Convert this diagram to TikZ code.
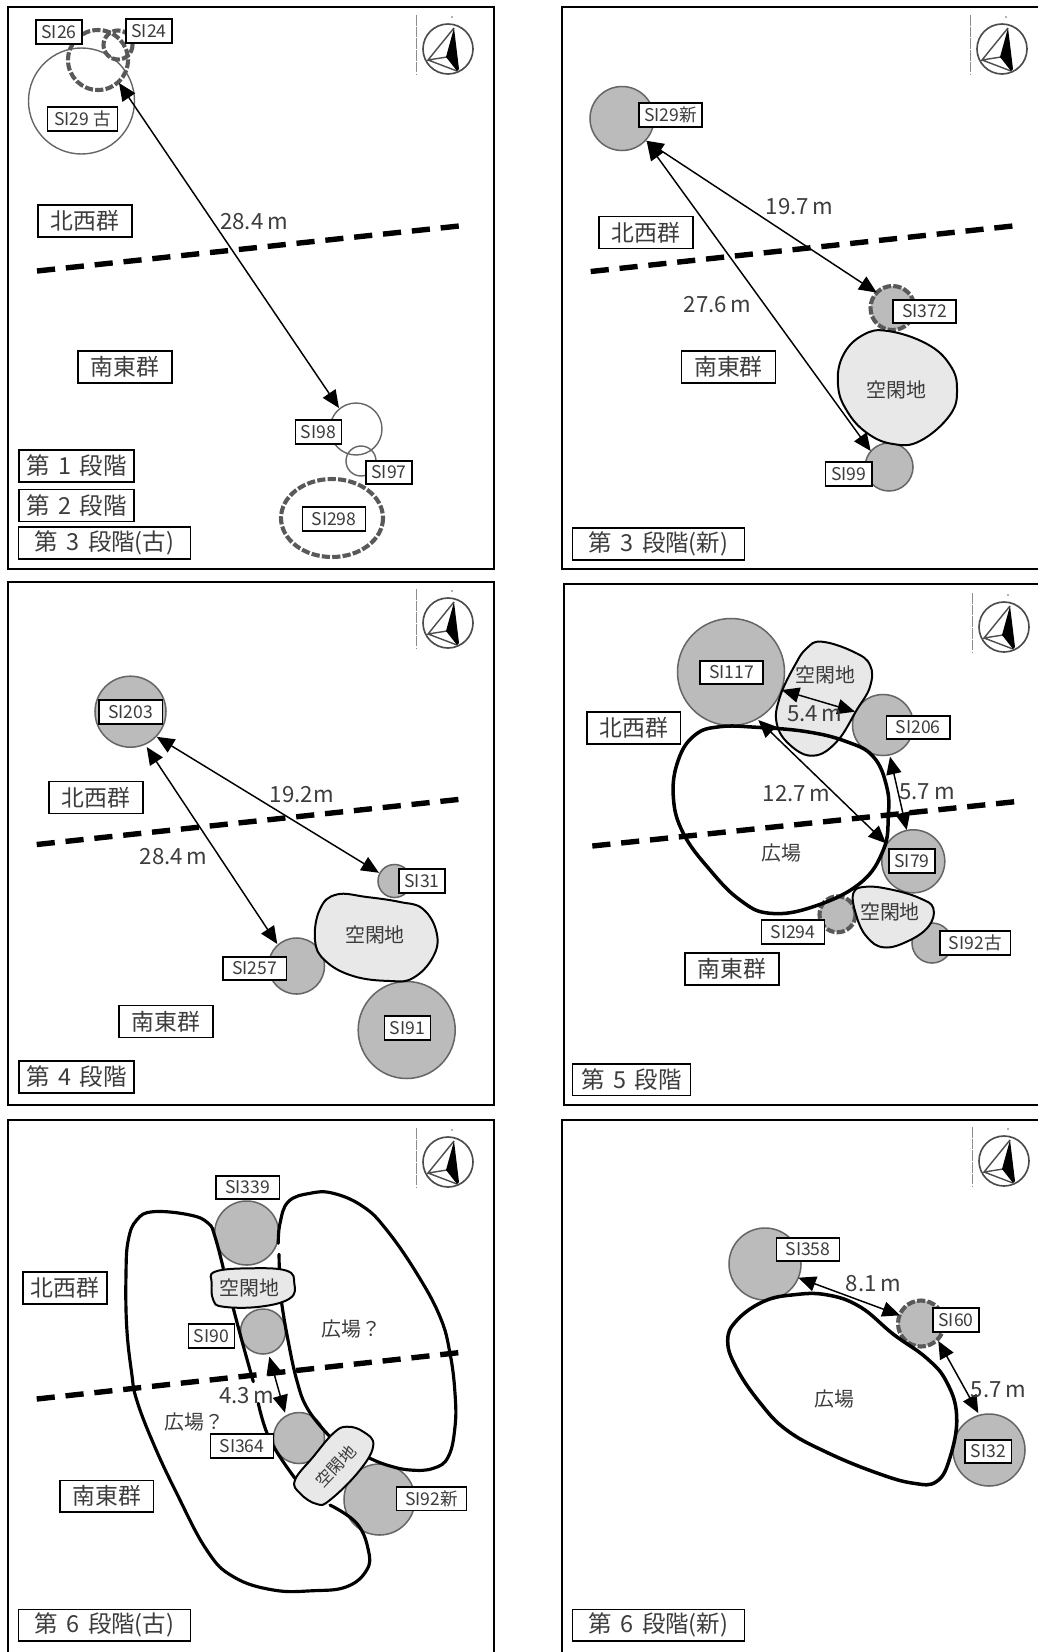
\documentclass[tikz,border=0pt]{standalone}
\usepackage{fontspec}
\setmainfont{Noto Sans CJK JP}
\usetikzlibrary{arrows.meta}
\definecolor{pitgray}{HTML}{BBBBBB}
\definecolor{pitline}{HTML}{666666}
\definecolor{voidgray}{HTML}{E8E8E8}
\definecolor{inkgray}{HTML}{3C3C3C}
\newcommand{\stagetext}[2]{第\hspace{.36em}#1\hspace{.36em}段階#2}
\tikzset{
	pit/.style={draw=pitline,fill=pitgray,line width=1.3pt},
	openpit/.style={draw=pitline,line width=1.2pt},
	lostpit/.style={draw=black!65,line width=3.5pt,dash pattern=on 7pt off 1.9pt},
	voidblob/.style={draw=black,fill=voidgray,line width=1.7pt},
	plaza/.style={draw=black,line width=3pt,line cap=round},
	divide/.style={draw=black,line width=4.6pt,dash pattern=on 15.5pt off 9.25pt},
	dist/.style={{Triangle[length=15pt,width=13pt]}-{Triangle[length=15pt,width=13pt]},line width=1.25pt},
	silabel/.style={draw=black,fill=white,line width=1.4pt,text=inkgray,font=\fontsize{15}{15}\selectfont,minimum width=39.5pt,minimum height=20pt,inner sep=0pt},
	silabelwide/.style={silabel,minimum width=54pt},
	silabellong/.style={silabel,minimum width=60pt},
	grouplabel/.style={draw=black,fill=white,line width=1.2pt,text=inkgray,font=\fontsize{19.5}{19.5}\selectfont,minimum width=80pt,minimum height=27pt,inner sep=0pt},
	stagelabel/.style={draw=black,fill=white,line width=1.2pt,text=inkgray,font=\fontsize{20}{20}\selectfont,minimum width=98.5pt,minimum height=27pt,inner sep=0pt},
	stagelabellong/.style={stagelabel,minimum width=147pt},
	distlabel/.style={text=inkgray,font=\fontsize{19}{19}\selectfont,inner sep=0pt},
	placelabel/.style={text=inkgray,font=\fontsize{17}{17}\selectfont,inner sep=0pt},
	compass/.pic={
		\draw[black!45,line width=.5pt,dash pattern=on 9pt off 1pt] (-31.5,-34)--(-31.5,26);
		\fill[black!60] (4,-32) circle [radius=.8];
		\draw[black!70,line width=1.4pt] (0,0) circle [radius=25];
		\draw[black!70,line width=1.2pt] (6,-21)--(-20,11)--(-1,8) (-20,11)--(9,22);
		\fill[black] (6,-21)--(-2,8)--(9,22)--(11,20)--cycle;
	}
}
\begin{document}
\begin{tikzpicture}[x=.03cm,y=-.03cm]
	\useasboundingbox (0,0) rectangle (1038,1652);
	\draw[line width=1.4pt] (8,7) rectangle (494,569);
	\draw[line width=1.4pt] (1039,7)--(562,7)--(562,569)--(1039,569);
	\draw[line width=1.4pt] (8,582) rectangle (494,1105);
	\draw[line width=1.4pt] (1039,584)--(564,584)--(564,1105)--(1039,1105);
	\draw[line width=1.4pt] (8,1653)--(8,1120)--(494,1120)--(494,1653);
	\draw[line width=1.4pt] (562,1653)--(562,1120)--(1039,1120);
	\pic at (448,49) {compass};
	\pic at (1002,49) {compass};
	\pic at (448,623) {compass};
	\pic at (1004,627) {compass};
	\pic at (448,1162) {compass};
	\pic at (1004,1161) {compass};

	\draw[openpit] (81.5,101) circle [radius=53];
	\draw[lostpit] (98,60) circle [radius=30];
	\draw[lostpit] (118,45) circle [radius=14.5];
	\draw[openpit] (356,429) circle [radius=26];
	\draw[openpit] (361,461) circle [radius=15];
	\draw[lostpit] (332,518) ellipse [x radius=51,y radius=39];
	\draw[divide] (37,271)--(459,226);
	\coordinate (p29old) at (119,83);
	\coordinate (p98) at (339,408);
	\draw[dist] (p29old)--(p98);
	\node[silabel] (si26) at (59,32) {SI26};
	\node[silabel] (si24) at (149,31) {SI24};
	\node[silabellong] (si29old) at (82.5,119) {SI29 古};
	\node[silabel] (si98) at (318.5,432) {SI98};
	\node[silabel] (si97) at (389,472.5) {SI97};
	\node[silabelwide] (si298) at (334,519) {SI298};
	\node[distlabel] (d284a) at (254,222) {28.4\,m};
	\node[grouplabel] (nwa) at (85,221) {北西群};
	\node[grouplabel] (sea) at (125,367) {南東群};
	\node[stagelabel] (stage1) at (76.5,466) {\stagetext{1}{}};
	\node[stagelabel] (stage2) at (76.5,505.5) {\stagetext{2}{}};
	\node[stagelabellong] (stage3old) at (104.5,543) {\stagetext{3}{(古)}};

	\draw[pit] (622,118.5) circle [radius=32];
	\draw[pit,lostpit] (892.5,308) circle [radius=22];
	\draw[pit] (889,467) circle [radius=24];
	\draw[voidblob] plot[smooth cycle,tension=.7] coordinates {(888,331)(927,344)(950,365)(957,389)(950,415)(920,441)(893,444)(867,433)(847,411)(838,385)(843,355.5)(863,335)};
	\draw[divide] (590.7,271.5)--(1012.7,226);
	\coordinate (p29newa) at (646,140.7);
	\coordinate (p29newb) at (647,142.6);
	\coordinate (p372) at (876.7,292.6);
	\coordinate (p99) at (870.7,451);
	\draw[dist] (p29newa)--(p372);
	\draw[dist] (p29newb)--(p99);
	\node[silabelwide] (si29new) at (670.5,115) {SI29新};
	\node[silabelwide] (si372) at (924.5,311.5) {SI372};
	\node[silabel] (si99) at (848.7,474) {SI99};
	\node[distlabel] (d197) at (799.7,206.7) {19.7\,m};
	\node[distlabel] (d276) at (717.7,304.4) {27.6\,m};
	\node[placelabel] (voida) at (896.7,389.6) {空閑地};
	\node[grouplabel] (nwb) at (646,232.5) {北西群};
	\node[grouplabel] (seb) at (728.5,367) {南東群};
	\node[stagelabellong] (stage3new) at (658.5,544) {\stagetext{3}{(新)}};

	\draw[pit] (130.5,711.7) circle [radius=35.5];
	\draw[pit] (394.5,881) circle [radius=16.5];
	\draw[pit] (296.5,966) circle [radius=28];
	\draw[pit] (406.7,1030) circle [radius=48.5];
	\draw[voidblob] plot[smooth cycle,tension=.7] coordinates {(336.7,894.5)(366.7,897)(400,902)(423,909)(436.7,933)(433,957)(413,978)(390,981)(353,976)(325,960.5)(315,940)(320,909)};
	\draw[divide] (36.7,844.5)--(459,799.4);
	\coordinate (p203a) at (156.7,736.8);
	\coordinate (p203b) at (146.7,747);
	\coordinate (p31) at (379,872.8);
	\coordinate (p257) at (277.3,944);
	\draw[dist] (p203a)--(p31);
	\draw[dist] (p203b)--(p257);
	\node[silabelwide] (si203) at (130.7,712) {SI203};
	\node[silabel] (si31) at (422,881) {SI31};
	\node[silabelwide] (si257) at (254.7,968.5) {SI257};
	\node[silabel] (si91) at (407.5,1028) {SI91};
	\node[distlabel] (d192) at (301.7,794.6) {19.2m};
	\node[distlabel] (d284b) at (173.7,857) {28.4\,m};
	\node[placelabel] (voidb) at (375,934.7) {空閑地};
	\node[grouplabel] (nwc) at (96,797.5) {北西群};
	\node[grouplabel] (sec) at (166,1021.5) {南東群};
	\node[stagelabel] (stage4) at (76.5,1077) {\stagetext{4}{}};

	\draw[pit] (731,672) circle [radius=53.5];
	\draw[pit] (883,725) circle [radius=30.5];
	\draw[pit] (913.3,861.3) circle [radius=31.5];
	\draw[pit] (932,943) circle [radius=20];
	\draw[pit,lostpit] (837.5,914.3) circle [radius=18];
	\draw[voidblob] plot[smooth cycle,tension=.7] coordinates {(821.7,641.7)(853.3,651.7)(870,665)(870,686.7)(856.7,710)(836.7,741.7)(813.3,755.7)(790,745)(776.7,723.3)(780,696.7)(795,665)(806.7,648.3)};
	\draw[voidblob] plot[smooth cycle,tension=.7] coordinates {(853.3,893.3)(866.7,886.7)(893.3,890)(920,898.3)(933.3,908.3)(928.3,926.7)(906.7,941.7)(883.3,947.3)(866.7,936.7)(856.7,916.7)};
	\draw[plaza] plot[smooth cycle,tension=.7] coordinates {(720,726.7)(756.7,727.3)(806.7,731.7)(846.7,741.7)(873.3,756.7)(886.7,786.7)(888.3,816.7)(883.3,850)(860,883.3)(813.3,906.7)(770,913.3)(740,900)(710,870)(683.3,833.3)(673.3,796.7)(678.3,760)(695,735)};
	\draw[divide] (592.3,846)--(1015,801.7);
	\coordinate (p117a) at (781.7,690);
	\coordinate (p117b) at (758.3,720);
	\coordinate (p206a) at (855,711.7);
	\coordinate (p206b) at (890,756.7);
	\coordinate (p79a) at (886,843.3);
	\coordinate (p79b) at (906.7,830);
	\draw[dist] (p117a)--(p206a);
	\draw[dist] (p117b)--(p79a);
	\draw[dist] (p206b)--(p79b);
	\node[silabelwide] (si117) at (731.5,672.5) {SI117};
	\node[silabelwide] (si206) at (918.3,727.5) {SI206};
	\node[silabel] (si79) at (912,861) {SI79};
	\node[silabelwide] (si294) at (793,932) {SI294};
	\node[silabellong] (si92old) at (975.3,943) {SI92古};
	\node[distlabel] (d54) at (815,714) {5.4\,m};
	\node[distlabel] (d127) at (796.7,794) {12.7\,m};
	\node[distlabel] (d57a) at (927.3,791.7) {5.7 m};
	\node[placelabel] (voidc) at (825.7,675) {空閑地};
	\node[placelabel] (voidd) at (890,911.7) {空閑地};
	\node[placelabel] (plazaa) at (781.7,853.3) {広場};
	\node[grouplabel] (nwd) at (633.7,728) {北西群};
	\node[grouplabel] (sed) at (732,969) {南東群};
	\node[stagelabel,minimum width=101pt] (stage5) at (631.5,1079.6) {\stagetext{5}{}};

	\draw[pit] (246.7,1233) circle [radius=32];
	\draw[pit] (263,1331.5) circle [radius=22.5];
	\draw[pit] (299,1438) circle [radius=25.5];
	\draw[pit] (379.5,1499.5) circle [radius=35.5];
	\begin{scope}[plaza/.append style={line width=2.7pt}]
		\draw[plaza] plot[smooth,tension=.7] coordinates {(223.3,1268.3)(215,1236.7)(208.3,1223.3)(190,1215)(153.3,1211.7)(136.7,1220)(128.3,1240)(126,1273.3)(126.7,1326.7)(131.7,1373.3)(136.7,1400)(153.3,1443.3)(176.7,1493.3)(206.7,1550)(233.3,1576.7)(273.3,1590)(313.3,1590.7)(346.7,1586.7)(366.7,1570)(368.3,1550)(356.7,1523.3)(330,1505)};
		\draw[plaza] plot[smooth,tension=.7] coordinates {(233.3,1308.3)(241.7,1340)(253.3,1381.7)};
		\draw[plaza] plot[smooth,tension=.7] coordinates {(258.3,1403.3)(270,1440)(295,1478.3)};
		\draw[plaza] plot[smooth,tension=.7] coordinates {(278.3,1243.3)(280,1223.3)(288.3,1201.7)(310,1193.3)(333.3,1193.3)(363.3,1206.7)(386.7,1230)(416.7,1273.3)(440,1316.7)(450,1353.3)(455,1393.3)(455,1426.7)(448.3,1456.7)(433.3,1468.3)(410,1470)(386.7,1465)(370,1458.3)};
		\draw[plaza] (279,1254.3)--(279.3,1270);
		\draw[plaza] plot[smooth,tension=.7] coordinates {(281.7,1303.3)(286.7,1333.3)(296.7,1380)(308.3,1410)(330,1436.7)};
	\end{scope}
	\draw[voidblob] plot[smooth cycle,tension=.7] coordinates {(215,1271.7)(250,1268.3)(286.7,1270.7)(294.3,1283.3)(290,1298.3)(260,1306.7)(223.3,1306.7)(213.3,1300)(211.7,1283.3)};
	\draw[voidblob] plot[smooth cycle,tension=.7] coordinates {(346.7,1426.7)(363.3,1431.7)(373.3,1445)(360,1470)(330,1500)(316.7,1504)(300,1493.3)(295,1480)(313.3,1456.7)(333.3,1433.3)};
	\draw[divide] (36.7,1399)--(458.3,1352.7);
	\coordinate (p90) at (269.3,1356.7);
	\coordinate (p364) at (285,1412.7);
	\draw[dist] (p90)--(p364);
	\node[silabelwide] (si339) at (247.7,1187.5) {SI339};
	\node[silabel] (si90) at (211.5,1336) {SI90};
	\node[silabelwide] (si364) at (242,1446) {SI364};
	\node[silabellong] (si92new) at (431.5,1498.7) {SI92新};
	\node[distlabel] (d43) at (246.7,1396) {4.3\,m};
	\node[placelabel] (voide) at (249.3,1288.3) {空閑地};
	\node[placelabel,rotate=47,font=\fontsize{14}{14}\selectfont] (voidf) at (336,1466.7) {空閑地};
	\node[placelabel] (plazab) at (351.7,1329) {広場？};
	\node[placelabel] (plazac) at (194.3,1421.7) {広場？};
	\node[grouplabel,minimum width=72pt] (nwe) at (65,1288) {北西群};
	\node[grouplabel] (see) at (106.7,1496) {南東群};
	\node[stagelabellong] (stage6old) at (104.5,1625) {\stagetext{6}{(古)}};

	\draw[pit] (765,1264) circle [radius=36];
	\draw[pit,lostpit] (921,1323.5) circle [radius=23];
	\draw[pit] (989,1450) circle [radius=36];
	\draw[plaza] plot[smooth cycle,tension=.7] coordinates {(763.3,1301.6)(793.3,1294.8)(826.7,1294.8)(860,1306.8)(893.3,1334.2)(926.7,1358.2)(946.7,1382.1)(956.7,1416.4)(950,1457.5)(936.7,1481.4)(913.3,1483.2)(876.7,1472.9)(826.7,1452.3)(786.7,1430.1)(760,1402.7)(736.7,1368.4)(727.7,1341)(736.7,1320.5)};
	\coordinate (p358) at (798.3,1277.7);
	\coordinate (p60a) at (900,1315.3);
	\coordinate (p60b) at (938.3,1341);
	\coordinate (p32) at (978.3,1413);
	\draw[dist] (p358)--(p60a);
	\draw[dist] (p60b)--(p32);
	\node[silabelwide] (si358) at (808,1249.5) {SI358};
	\node[silabel] (si60) at (956,1320) {SI60};
	\node[silabel] (si32) at (988.3,1451.5) {SI32};
	\node[distlabel] (d81) at (873.3,1283.8) {8.1\,m};
	\node[distlabel] (d57b) at (998.3,1389.7) {5.7\,m};
	\node[placelabel] (plazad) at (834,1398.6) {広場};
	\node[stagelabellong] (stage6new) at (658.5,1625) {\stagetext{6}{(新)}};
\end{tikzpicture}
\end{document}
